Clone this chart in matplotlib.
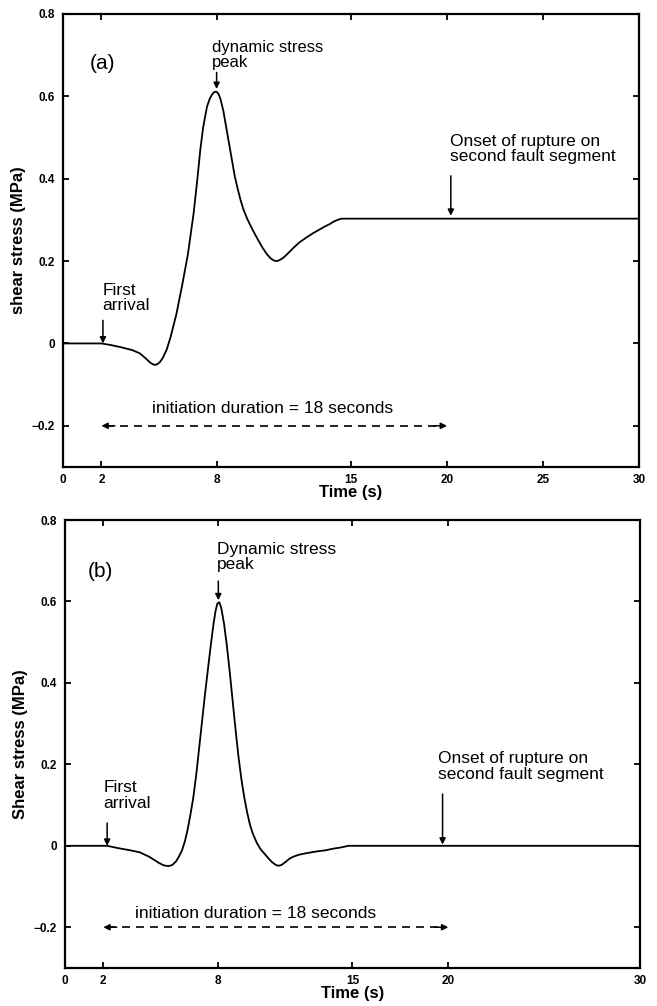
import matplotlib
matplotlib.use("Agg")
import matplotlib.pyplot as plt

plt.rcParams['font.family'] = ['Liberation Sans', 'DejaVu Sans']

# ---------------- data ----------------
time_a = [0, 2.0, 2.5, 3.0, 3.6, 4.0, 4.3, 4.55, 4.75, 4.9, 5.05, 5.2, 5.4, 5.6,
          5.9, 6.2, 6.5, 6.8, 7.0, 7.15, 7.3, 7.5, 7.65, 7.8, 7.9, 8.0, 8.1, 8.2, 8.35,
          8.5, 8.65, 8.8, 8.95, 9.1, 9.25, 9.4, 9.6, 9.8, 10.0, 10.2, 10.4, 10.6,
          10.8, 11.0, 11.15, 11.3, 11.5, 11.7, 12.0, 12.3, 12.7, 13.0, 13.3, 13.6,
          13.9, 14.1, 14.3, 14.5, 30]
stress_a = [0, 0.0, -0.004, -0.009, -0.016, -0.024, -0.036, -0.047, -0.052, -0.051,
            -0.045, -0.035, -0.015, 0.015, 0.07, 0.14, 0.215, 0.315, 0.40, 0.47,
            0.525, 0.575, 0.595, 0.607, 0.611, 0.611, 0.606, 0.594, 0.565, 0.525,
            0.485, 0.445, 0.405, 0.375, 0.348, 0.325, 0.302, 0.283, 0.265, 0.248,
            0.232, 0.218, 0.207, 0.201, 0.200, 0.203, 0.209, 0.218, 0.232, 0.245,
            0.258, 0.267, 0.275, 0.283, 0.290, 0.296, 0.300, 0.303, 0.303]

time_b = [0, 2.2, 2.8, 3.4, 3.9, 4.4, 4.9, 5.15, 5.4, 5.6, 5.8, 5.95, 6.1, 6.25,
          6.4, 6.55, 6.7, 6.85, 7.0, 7.15, 7.3, 7.45, 7.6, 7.75, 7.85, 7.95, 8.05,
          8.15, 8.3, 8.45, 8.6, 8.75, 8.9, 9.05, 9.2, 9.35, 9.5, 9.65, 9.8, 10.0,
          10.2, 10.4, 10.6, 10.8, 11.0, 11.15, 11.3, 11.5, 11.7, 11.9, 12.2, 12.5,
          13.1, 13.6, 14.0, 14.4, 14.8, 30]
stress_b = [0, 0, -0.006, -0.011, -0.016, -0.027, -0.042, -0.048, -0.050, -0.047,
            -0.038, -0.026, -0.012, 0.010, 0.040, 0.078, 0.120, 0.175, 0.240,
            0.305, 0.370, 0.430, 0.490, 0.545, 0.575, 0.595, 0.598, 0.585, 0.545,
            0.490, 0.425, 0.355, 0.285, 0.220, 0.165, 0.120, 0.083, 0.052, 0.030,
            0.008, -0.008, -0.019, -0.030, -0.040, -0.047, -0.049, -0.047, -0.040,
            -0.032, -0.027, -0.022, -0.019, -0.014, -0.011, -0.007, -0.004, 0.0, 0.0]

xticks_a = [0, 2, 8, 15, 20, 25, 30]
xticks_b = [0, 2, 8, 15, 20, 30]
yticks = [-0.2, 0, 0.2, 0.4, 0.6, 0.8]
ytick_labels = ['\u22120.2', '0', '0.2', '0.4', '0.6', '0.8']

ylabel_a = 'shear stress (MPa)'
ylabel_b = 'Shear stress (MPa)'
xlabel = 'Time (s)'
peak_a = 'dynamic stress\npeak'
peak_b = 'Dynamic stress\npeak'
first_txt = 'First\narrival'
onset_txt = 'Onset of rupture on\nsecond fault segment'
init_txt = 'initiation duration = 18 seconds'

fig = plt.figure(figsize=(6.57, 10.06), dpi=100)
ax_a = fig.add_axes([0.0959, 0.5358, 0.8767, 0.4503])
ax_b = fig.add_axes([0.0989, 0.0378, 0.8752, 0.4453])

TXT = 12.5


def style(ax, xticks, ylabel):
    ax.set_xlim(0, 30)
    ax.set_ylim(-0.3, 0.8)
    ax.set_xticks(xticks)
    ax.set_xticklabels([str(t) for t in xticks], fontsize=8.5, fontweight='bold')
    ax.set_yticks(yticks)
    ax.set_yticklabels(ytick_labels, fontsize=8.5, fontweight='bold')
    ax.tick_params(direction='in', length=4, width=1.3, top=True, right=True,
                   pad=5)
    ax.tick_params(axis='y', pad=6)
    for s in ax.spines.values():
        s.set_linewidth(1.6)
    ax.set_ylabel(ylabel, fontsize=12, fontweight='bold', labelpad=4)
    ax.set_xlabel(xlabel, fontsize=12, fontweight='bold', labelpad=-1)


def arrow(ax, x0, y0, x1, y1):
    ax.annotate('', xy=(x1, y1), xytext=(x0, y0),
                arrowprops=dict(arrowstyle='-|>', color='black', lw=1.1,
                                mutation_scale=9, shrinkA=0, shrinkB=0))


def dur_arrow(ax, y):
    ax.plot([2.25, 19.75], [y, y], color='black', lw=1.2, dashes=[4.8, 3.6])
    arrow(ax, 2.7, y, 2.0, y)
    arrow(ax, 19.3, y, 20.0, y)


# ---------- panel (a) ----------
ax = ax_a
ax.plot(time_a, stress_a, color='black', lw=1.3, solid_joinstyle='round')
style(ax, xticks_a, ylabel_a)
ax.text(1.4, 0.679, '(a)', fontsize=15, ha='left', va='center')
ax.text(7.76, 0.737, peak_a, fontsize=12, ha='left', va='top', linespacing=1.0)
arrow(ax, 8.0, 0.658, 8.0, 0.618)
ax.text(2.05, 0.11, first_txt, fontsize=TXT, ha='left', va='center', linespacing=1.05)
arrow(ax, 2.08, 0.056, 2.08, 0.0)
ax.text(20.16, 0.472, onset_txt, fontsize=TXT, ha='left', va='center', linespacing=1.05)
arrow(ax, 20.2, 0.407, 20.2, 0.31)
ax.text(4.64, -0.158, init_txt, fontsize=TXT, ha='left', va='center')
dur_arrow(ax, -0.2)

# ---------- panel (b) ----------
ax = ax_b
ax.plot(time_b, stress_b, color='black', lw=1.3, solid_joinstyle='round')
style(ax, xticks_b, ylabel_b)
ax.text(1.2, 0.674, '(b)', fontsize=15, ha='left', va='center')
ax.text(7.93, 0.745, peak_b, fontsize=TXT, ha='left', va='top', linespacing=1.0)
arrow(ax, 8.0, 0.65, 8.0, 0.603)
ax.text(2.0, 0.124, first_txt, fontsize=TXT, ha='left', va='center', linespacing=1.05)
arrow(ax, 2.2, 0.056, 2.2, 0.0)
ax.text(19.46, 0.195, onset_txt, fontsize=TXT, ha='left', va='center', linespacing=1.05)
arrow(ax, 19.7, 0.127, 19.7, 0.003)
ax.text(3.65, -0.167, init_txt, fontsize=TXT, ha='left', va='center')
dur_arrow(ax, -0.2)

fig.savefig('out.png', dpi=100)
